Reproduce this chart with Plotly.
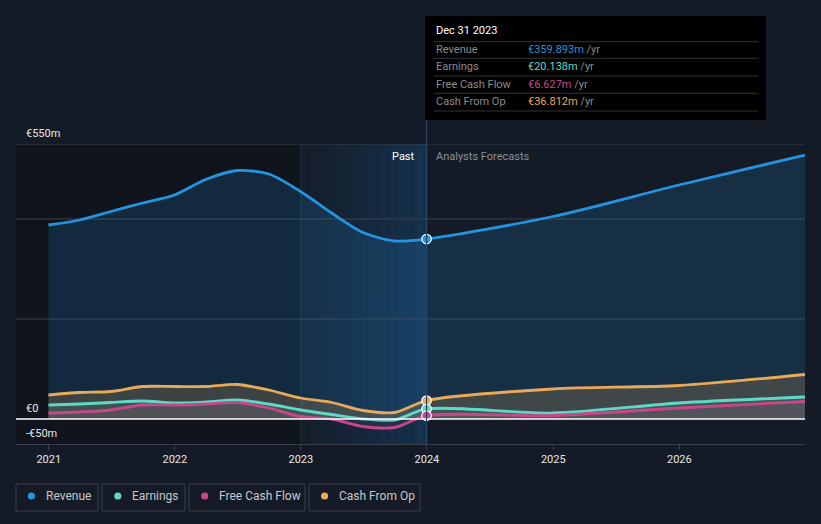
import plotly.graph_objects as go
import datetime as dt

# ---------------- data ----------------
past_dates = ["2020-12-31", "2021-03-31", "2021-06-30", "2021-09-30", "2021-12-31",
              "2022-03-31", "2022-06-30", "2022-09-30", "2022-12-31", "2023-03-31",
              "2023-06-30", "2023-09-30", "2023-12-31"]
fc_dates = ["2023-12-31", "2024-12-31", "2025-12-31", "2026-12-31"]

revenue_past = [388, 398, 415, 432, 448, 479, 497, 490, 455, 412, 373, 356, 359.893]
revenue_fc = [359.893, 405, 468, 528]

earnings_past = [28, 30, 33, 36, 32, 34, 38, 30, 18, 9, 0, -2, 20.138]
earnings_fc = [20.138, 12, 32, 44]

fcf_past = [12, 14, 18, 28, 28, 30, 33, 22, 5, 0, -15, -17, 6.627]
fcf_fc = [6.627, 7, 22, 35]

cfo_past = [48, 53, 55, 65, 65, 65, 69, 58, 42, 33, 17, 13, 36.812]
cfo_fc = [36.812, 60, 67, 89]

year_ticks = ["2021-01-01", "2022-01-01", "2023-01-01", "2024-01-01", "2025-01-01", "2026-01-01"]
year_labels = ["2021", "2022", "2023", "2024", "2025", "2026"]
grid_vals = [200, 400, 550]
ytick_labels = [(550, "€550m"), (0, "€0"), (-50, "-€50m")]

series = [
    ("Revenue", revenue_past, revenue_fc, "#2394df", "rgba(35,148,223,0.17)"),
    ("Cash From Op", cfo_past, cfo_fc, "#e8a958", "rgba(232,169,88,0.20)"),
    ("Earnings", earnings_past, earnings_fc, "#5fd9c5", "rgba(95,217,197,0.10)"),
    ("Free Cash Flow", fcf_past, fcf_fc, "#c8478a", "rgba(200,71,138,0.12)"),
]
tooltip_rows = [("Revenue", "€359.893m", "#2394df"),
                ("Earnings", "€20.138m", "#5fd9c5"),
                ("Free Cash Flow", "€6.627m", "#c8478a"),
                ("Cash From Op", "€36.812m", "#e8a958")]
legend_items = [("Revenue", "#2394df"), ("Earnings", "#5fd9c5"),
                ("Free Cash Flow", "#c8478a"), ("Cash From Op", "#e8a958")]

# ---------------- geometry helpers ----------------
W, H = 821, 524
L, R, T, B = 16, 16, 144, 80
PW, PH = W - L - R, H - T - B


def px(X):
    return (X - L) / PW


def py(Y):
    return (H - B - Y) / PH


BG = "#151b26"
fig = go.Figure()

for name, past, fc, col, fill in series:
    fig.add_trace(go.Scatter(x=past_dates + fc_dates[1:], y=past + fc[1:], mode="lines",
                             line=dict(color=col, width=2.8, shape="spline", smoothing=0.8),
                             fill="tozeroy", fillcolor=fill, hoverinfo="skip"))

for name, past, fc, col, fill in series:
    fig.add_trace(go.Scatter(x=[past_dates[-1]], y=[past[-1]], mode="markers",
                             marker=dict(size=9.5, color=col, line=dict(color="white", width=1.2)),
                             hoverinfo="skip"))

shapes = []
# darker region before 2023
shapes.append(dict(type="rect", xref="x", yref="paper", x0="2020-09-01", x1="2023-01-01",
                   y0=0, y1=1, fillcolor="rgba(0,0,0,0.22)", line_width=0, layer="below"))
# past highlight gradient
start = dt.date(2023, 1, 1)
n = 14
for i in range(n):
    a = start + dt.timedelta(days=int(365 * i / n))
    b = start + dt.timedelta(days=int(365 * (i + 1) / n) + 1)
    alpha = 0.04 + 0.28 * (i / (n - 1))
    shapes.append(dict(type="rect", xref="x", yref="paper", x0=str(a), x1=str(b), y0=0, y1=1,
                       fillcolor=f"rgba(25,95,155,{alpha:.3f})", line_width=0, layer="below"))
shapes.append(dict(type="line", xref="x", yref="paper", x0="2023-01-01", x1="2023-01-01",
                   y0=0, y1=1, line=dict(color="rgba(40,70,100,0.6)", width=1), layer="below"))
# gridlines
for v in grid_vals:
    shapes.append(dict(type="line", xref="paper", yref="y", x0=0, x1=1, y0=v, y1=v,
                       line=dict(color="#3a404b", width=1), layer="below"))
# zero line
shapes.append(dict(type="line", xref="paper", yref="y", x0=0, x1=1, y0=0, y1=0,
                   line=dict(color="#ffffff", width=1.5)))
# vertical now line
shapes.append(dict(type="line", xref="x", yref="paper", x0="2023-12-31", x1="2023-12-31",
                   y0=0, y1=py(120), line=dict(color="#24486a", width=1.2)))
# tooltip box
shapes.append(dict(type="rect", xref="paper", yref="paper", x0=px(425), x1=px(766),
                   y0=py(120), y1=py(16), fillcolor="#000000", line_width=0))
for yy in [41.7, 58.3, 76, 93.3, 111]:
    shapes.append(dict(type="line", xref="paper", yref="paper", x0=px(434), x1=px(758),
                       y0=py(yy), y1=py(yy), line=dict(color="#333333", width=1)))

annotations = []
annotations.append(dict(xref="paper", yref="paper", x=px(434), y=py(31), text="Dec 31 2023",
                        showarrow=False, xanchor="left", yanchor="middle",
                        font=dict(color="#ffffff", size=11, family="Roboto")))
for i, (lab, val, col) in enumerate(tooltip_rows):
    yy = [49.3, 66.7, 84.3, 101.7][i]
    annotations.append(dict(xref="paper", yref="paper", x=px(434), y=py(yy), text=lab,
                            showarrow=False, xanchor="left", yanchor="middle",
                            font=dict(color="#8c8c8c", size=11, family="Roboto")))
    annotations.append(dict(xref="paper", yref="paper", x=px(526), y=py(yy),
                            text=f"<span style='color:{col}'>{val}</span> /yr",
                            showarrow=False, xanchor="left", yanchor="middle",
                            font=dict(color="#8c8c8c", size=11, family="Roboto")))
# y labels
for v, t in ytick_labels:
    annotations.append(dict(xref="paper", yref="y", x=px(24), y=v, text=t, showarrow=False,
                            xanchor="left", yanchor="bottom", yshift=2,
                            font=dict(color="#e6e6e6", size=11, family="Roboto")))
annotations.append(dict(xref="paper", yref="paper", x=px(417), y=py(156), text="Past",
                        showarrow=False, xanchor="right", yanchor="middle",
                        font=dict(color="#ffffff", size=11, family="Roboto")))
annotations.append(dict(xref="paper", yref="paper", x=px(434), y=py(156), text="Analysts Forecasts",
                        showarrow=False, xanchor="left", yanchor="middle",
                        font=dict(color="#8a8f98", size=11, family="Roboto")))

# legend boxes
boxes = [(16, 98), (102, 185), (189, 305), (309, 420)]
dots = [31.4, 117.8, 204.7, 324.6]
texts = [44, 130, 217, 337]
for (x0, x1), dx, tx, (lab, col) in zip(boxes, dots, texts, legend_items):
    shapes.append(dict(type="rect", xref="paper", yref="paper", x0=px(x0), x1=px(x1),
                       y0=py(511), y1=py(484), line=dict(color="#3a3f4a", width=1),
                       fillcolor="rgba(0,0,0,0)"))
    r = 3.6
    shapes.append(dict(type="circle", xref="paper", yref="paper", x0=px(dx - r), x1=px(dx + r),
                       y0=py(496 + r), y1=py(496 - r), fillcolor=col, line_width=0))
    annotations.append(dict(xref="paper", yref="paper", x=px(tx), y=py(496), text=lab,
                            showarrow=False, xanchor="left", yanchor="middle",
                            font=dict(color="#c8c8c8", size=12, family="Roboto")))

fig.update_layout(
    width=W, height=H, autosize=False,
    margin=dict(l=L, r=R, t=T, b=B),
    paper_bgcolor=BG, plot_bgcolor=BG,
    showlegend=False,
    shapes=shapes, annotations=annotations,
    font=dict(family="Roboto", color="#e6e6e6"),
    xaxis=dict(type="date", range=["2020-09-28", "2026-12-31"],
               tickvals=year_ticks, ticktext=year_labels,
               showgrid=False, zeroline=False, showline=True, linecolor="#3a404b", linewidth=1,
               ticks="outside", ticklen=5, tickcolor="#3a404b",
               tickfont=dict(size=11, color="#e6e6e6", family="Roboto")),
    yaxis=dict(range=[-50, 550], showgrid=False, zeroline=False, showticklabels=False,
               fixedrange=True),
)

fig.write_html("out.html", config={"displayModeBar": False},
               post_script="document.body.style.margin='0';document.body.style.background='#151b26';")
